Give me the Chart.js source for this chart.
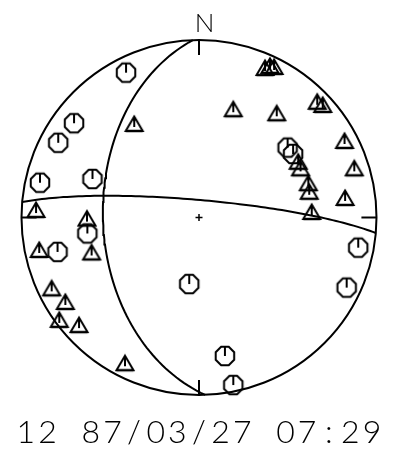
<!DOCTYPE html>
<html>
<head>
<meta charset="utf-8">
<script src="https://cdn.jsdelivr.net/npm/chart.js@4.4.0/dist/chart.umd.min.js"></script>
<style>
html, body { margin: 0; padding: 0; background: #fff; }
canvas { display: block; }
</style>
</head>
<body>
<canvas id="beachball" width="415" height="467"></canvas>
<script>
// Polarities, unit circle coords (x = east, y = north)
const circleX = [-0.411, -0.704, -0.793, -0.896, -0.600, -0.629, -0.797, -0.055, 0.897, 0.832, 0.146, 0.193, 0.499, 0.530];
const circleY = [0.816, 0.531, 0.421, 0.196, 0.217, -0.090, -0.194, -0.375, -0.170, -0.395, -0.780, -0.944, 0.394, 0.358];

const triangleX = [-0.365, 0.193, 0.438, 0.372, 0.400, 0.423, 0.666, 0.697, 0.820, 0.875, 0.823, 0.559, 0.572, 0.616, 0.621, 0.635,
    -0.918, -0.631, -0.605, -0.900, -0.830, -0.753, -0.787, -0.676, -0.417];
const triangleY = [0.527, 0.610, 0.587, 0.842, 0.854, 0.848, 0.652, 0.634, 0.431, 0.277, 0.110, 0.314, 0.277, 0.193, 0.145, 0.031,
    0.042, -0.006, -0.197, -0.183, -0.399, -0.476, -0.577, -0.606, -0.821];

// Nodal planes (strike, dip in degrees, right-hand rule)
const planeStrike = [275, 178];
const planeDip = [82, 45];

const northLabel = 'N';
const eventLabel = '12 87/03/27 07:29';
const tickLen = 0.085;

// Lower hemisphere equal-area projection of a plane
function greatCircle(strike, dip) {
    const rad = Math.PI / 180;
    const s = strike * rad;
    const d = dip * rad;
    const dd = s + Math.PI / 2;
    const pts = [];
    for (let i = 0; i <= 180; i += 2) {
        const t = i * rad;
        const n = Math.cos(t) * Math.cos(s) + Math.sin(t) * Math.cos(dd) * Math.cos(d);
        const e = Math.cos(t) * Math.sin(s) + Math.sin(t) * Math.sin(dd) * Math.cos(d);
        const down = Math.sin(t) * Math.sin(d);
        const plunge = Math.asin(Math.min(1, down));
        const trend = Math.atan2(e, n);
        const r = Math.SQRT2 * Math.sin((Math.PI / 2 - plunge) / 2);
        pts.push({ x: r * Math.sin(trend), y: r * Math.cos(trend) });
    }
    return pts;
}

function toPoints(xs, ys) {
    return xs.map((x, i) => ({ x: x, y: ys[i] }));
}

// Symbol images
function makeOctagon() {
    const c = document.createElement('canvas');
    c.width = 24;
    c.height = 24;
    const g = c.getContext('2d');
    g.strokeStyle = '#000';
    g.lineWidth = 2;
    g.beginPath();
    for (let k = 0; k < 8; k++) {
        const a = (k + 0.5) * Math.PI / 4;
        const px = 12 + 10 * Math.cos(a);
        const py = 12 + 10 * Math.sin(a);
        if (k === 0) g.moveTo(px, py); else g.lineTo(px, py);
    }
    g.closePath();
    g.stroke();
    g.beginPath();
    g.moveTo(12, 3);
    g.lineTo(12, 12);
    g.stroke();
    return c;
}

function makeTriangle() {
    const c = document.createElement('canvas');
    c.width = 22;
    c.height = 20;
    const g = c.getContext('2d');
    g.strokeStyle = '#000';
    g.lineWidth = 2;
    g.lineJoin = 'miter';
    g.beginPath();
    g.moveTo(11, 2.5);
    g.lineTo(19.5, 17);
    g.lineTo(2.5, 17);
    g.closePath();
    g.stroke();
    g.lineWidth = 2.5;
    g.beginPath();
    g.moveTo(2.5, 17);
    g.lineTo(19.5, 17);
    g.stroke();
    g.lineWidth = 2;
    g.beginPath();
    g.moveTo(11, 3);
    g.lineTo(11, 13);
    g.stroke();
    return c;
}

// Outer circle, cardinal ticks and the labels
const stereonetFrame = {
    id: 'stereonetFrame',
    beforeDatasetsDraw(chart) {
        const { ctx, scales } = chart;
        const px = v => scales.x.getPixelForValue(v);
        const py = v => scales.y.getPixelForValue(v);
        const cx = px(0);
        const cy = py(0);
        const r = px(1) - cx;
        ctx.save();
        ctx.strokeStyle = '#000';
        ctx.lineWidth = 2;
        ctx.beginPath();
        ctx.arc(cx, cy, r, 0, Math.PI * 2);
        ctx.stroke();
        const ticks = [[0, 1, 0, 1 - tickLen], [0, -1, 0, -1 + tickLen], [1, 0, 1 - tickLen, 0], [-1, 0, -1 + tickLen, 0]];
        ticks.forEach(t => {
            ctx.beginPath();
            ctx.moveTo(px(t[0]), py(t[1]));
            ctx.lineTo(px(t[2]), py(t[3]));
            ctx.stroke();
        });
        ctx.restore();
    },
    afterDraw(chart) {
        const { ctx, scales } = chart;
        const cx = scales.x.getPixelForValue(0);
        const top = scales.y.getPixelForValue(1);
        ctx.save();
        ctx.fillStyle = '#000';
        ctx.textAlign = 'center';
        ctx.textBaseline = 'alphabetic';
        ctx.font = '300 26px Lato, "Liberation Sans", sans-serif';
        ctx.fillText(northLabel, cx + 5.5, top - 8);
        // fixed-pitch layout like the plotter font
        ctx.font = '300 32px Lato, "Liberation Sans", sans-serif';
        const cell = 21.63;
        const start = 25.9;
        for (let i = 0; i < eventLabel.length; i++) {
            ctx.fillText(eventLabel[i], start + i * cell, 443);
        }
        ctx.restore();
    }
};

const lineStyle = {
    showLine: true,
    borderColor: '#000',
    borderWidth: 2,
    pointRadius: 0,
    fill: false,
    tension: 0,
    clip: false
};

const octagon = makeOctagon();
const triangle = makeTriangle();

const chart = new Chart(document.getElementById('beachball').getContext('2d'), {
    type: 'scatter',
    data: {
        datasets: [
            Object.assign({ data: greatCircle(planeStrike[0], planeDip[0]) }, lineStyle),
            Object.assign({ data: greatCircle(planeStrike[1], planeDip[1]) }, lineStyle),
            {
                data: toPoints(circleX, circleY),
                pointStyle: octagon,
                pointRadius: 10,
                clip: false
            },
            {
                data: toPoints(triangleX, triangleY),
                pointStyle: triangle,
                pointRadius: 10,
                clip: false
            },
            {
                data: [{ x: 0, y: 0 }],
                pointStyle: 'cross',
                pointRadius: 3.5,
                borderColor: '#000',
                borderWidth: 1.5,
                clip: false
            }
        ]
    },
    options: {
        responsive: false,
        animation: false,
        events: [],
        layout: { padding: { left: 21.5, right: 38.5, top: 40, bottom: 72 } },
        scales: {
            x: { type: 'linear', min: -1, max: 1, display: false },
            y: { type: 'linear', min: -1, max: 1, display: false }
        },
        plugins: {
            legend: { display: false },
            tooltip: { enabled: false }
        }
    },
    plugins: [stereonetFrame]
});
</script>
</body>
</html>
